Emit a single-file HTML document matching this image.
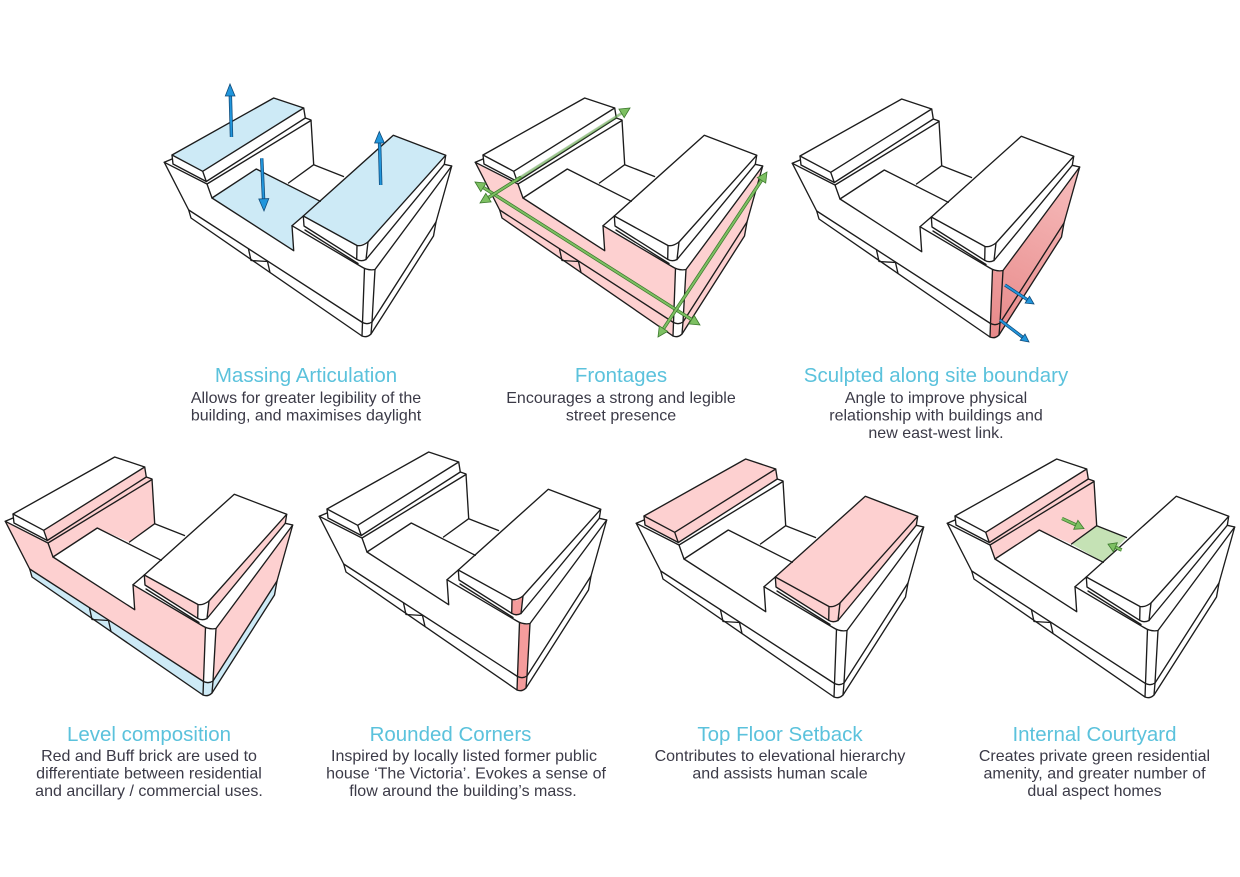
<!DOCTYPE html>
<html><head><meta charset="utf-8">
<style>
html,body{margin:0;padding:0;background:#fff;}
svg{display:block;}
.t{font-family:"Liberation Sans",Arial,sans-serif;font-size:20.5px;fill:#5bc2dc;text-anchor:middle;}
.d{font-family:"Liberation Sans",Arial,sans-serif;font-size:16px;fill:#3b3a47;text-anchor:middle;}
</style></head><body>
<svg width="1240" height="877" viewBox="0 0 1240 877" xmlns="http://www.w3.org/2000/svg">
<defs>
<linearGradient id="gr" x1="1075" y1="170" x2="995" y2="335" gradientUnits="userSpaceOnUse">
<stop offset="0" stop-color="#f6bcbc"/><stop offset="1" stop-color="#e88a8a"/>
</linearGradient>
<g id="b" fill="none" stroke="#1c1c1c" stroke-width="1.35" stroke-linejoin="round" stroke-linecap="round">
<path d="M800,156 L901.7,99 L931.7,109 L830.7,172.3 Z"/>
<path d="M830.7,172.3 L834.3,182.5 L933.3,119 L931.7,109"/>
<path d="M800,156 L801,165 L834.3,182.5"/>
<path d="M792.3,163.3 L800,160"/>
<path d="M933.3,119 L939,121 L941.7,165.7"/>
<path d="M835,185 L939,121.5"/>
<path d="M792.3,163.3 L835,185 L840,199 L921.7,251.7 L920,226.7 L989,267.5 Q996,272 1003,270.5 L1079.7,167 L1072.3,165.3"/>
<path d="M792.3,163.3 L816.7,211 L819,219 L990,337 Q995,339 999,335 L1061.5,237 L1064,223 L1079.7,167"/>
<path d="M816.7,211 L990.5,323.5 Q995.5,326 1000,323 L1064,223"/>
<path d="M992.5,269.5 L990.5,323.5 L990,337"/>
<path d="M1003,270.5 L1000,323 L999,335"/>
<path d="M840,199 L884.3,170 L948.3,202.3"/>
<path d="M916.5,184 L941.7,165.7 L971.5,177.5"/>
<path d="M931.3,217 L1021.3,136.3 L1073.7,156.3 L996,243 Q990,247.5 985,246.5 Z"/>
<path d="M931.3,217 L932,227 L984.7,260.3 Q989,263 994,260.5 L1072.3,165.3 L1073.7,156.3"/>
<path d="M985,246.5 L984.7,260.3"/>
<path d="M996,243 L994,260.5"/>
<path d="M920,226.7 L931.3,217"/>
<path d="M933,231 L986,264.5"/>
<path d="M876.5,250 L879,261.5 L895.5,262.5 L898,273.5"/>
</g>
</defs>

<!-- Diagram 1: Massing Articulation -->
<g transform="translate(-628,-1)">
<g fill="#cdeaf6">
<polygon points="800,156 901.7,99 931.7,109 830.7,172.3"/>
<polygon points="931.3,217 1021.3,136.3 1073.7,156.3 996,243 985,246.5"/>
<polygon points="840,199 884.3,170 948.3,202.3 931.3,217 920,226.7 921.7,251.7"/>
</g>
<use href="#b"/>
</g>
<g>
<line x1="231.5" y1="137" x2="230.3" y2="94" stroke="#104a78" stroke-width="3.4"/>
<line x1="231.5" y1="137" x2="230.3" y2="94" stroke="#2196dc" stroke-width="1.9"/>
<polygon points="225.3,96 230,84 235,96" fill="#2196dc" stroke="#104a78" stroke-width="0.8"/>
<line x1="261.7" y1="158.3" x2="263.6" y2="200" stroke="#104a78" stroke-width="3.4"/>
<line x1="261.7" y1="158.3" x2="263.6" y2="200" stroke="#2196dc" stroke-width="1.9"/>
<polygon points="258.8,199 264,211 268.8,198.6" fill="#2196dc" stroke="#104a78" stroke-width="0.8"/>
<line x1="380.7" y1="185" x2="379.5" y2="141" stroke="#104a78" stroke-width="3.4"/>
<line x1="380.7" y1="185" x2="379.5" y2="141" stroke="#2196dc" stroke-width="1.9"/>
<polygon points="374.6,143 379.3,131.5 384.4,143" fill="#2196dc" stroke="#104a78" stroke-width="0.8"/>
</g>

<!-- Diagram 2: Frontages -->
<g transform="translate(-317,-1)">
<g fill="#fdd0d0">
<polygon points="792.3,163.3 835,185 840,199 921.7,251.7 920,226.7 989,267.5 992.5,269.5 990.5,323.5 990,337 819,219 816.7,211"/>
<polygon points="1003,270.5 1079.7,167 1064,223 1061.5,237 999,335 1000,323"/>
</g>
<use href="#b"/>
</g>
<g stroke-linecap="round">
<line x1="483" y1="187.3" x2="692" y2="319.8" stroke="#3d7a2e" stroke-width="3.4"/>
<line x1="483" y1="187.3" x2="692" y2="319.8" stroke="#7dc062" stroke-width="1.9"/>
<polygon points="700,325 688.9,323.9 694.2,315.4" fill="#7dc062" stroke="#3d7a2e" stroke-width="0.8"/>
<polygon points="475,182 480.8,191.6 486.1,183.1" fill="#7dc062" stroke="#3d7a2e" stroke-width="0.8"/>
<line x1="488.5" y1="197.6" x2="520" y2="177.7" stroke="#3d7a2e" stroke-width="3.4"/>
<line x1="488.5" y1="197.6" x2="520" y2="177.7" stroke="#7dc062" stroke-width="1.9"/>
<line x1="520" y1="177.7" x2="621.5" y2="113.4" stroke="#3d7a2e" stroke-width="3" opacity="0.35"/>
<line x1="520" y1="177.7" x2="621.5" y2="113.4" stroke="#7dc062" stroke-width="1.8" opacity="0.5"/>
<polygon points="630,108 624.2,117.6 618.9,109.1" fill="#7dc062" stroke="#3d7a2e" stroke-width="0.8"/>
<polygon points="480,203 491.1,201.9 485.8,193.4" fill="#7dc062" stroke="#3d7a2e" stroke-width="0.8"/>
<line x1="663.5" y1="328.7" x2="761.5" y2="180.3" stroke="#3d7a2e" stroke-width="3.4"/>
<line x1="663.5" y1="328.7" x2="761.5" y2="180.3" stroke="#7dc062" stroke-width="1.9"/>
<polygon points="767,172 765.7,183.1 757.3,177.6" fill="#7dc062" stroke="#3d7a2e" stroke-width="0.8"/>
<polygon points="658,337 667.7,331.4 659.3,325.9" fill="#7dc062" stroke="#3d7a2e" stroke-width="0.8"/>
</g>

<!-- Diagram 3: Sculpted along site boundary -->
<g>
<polygon fill="url(#gr)" points="992.5,269.5 996,271.5 1003,270.5 1079.7,167 1064,223 1061.5,237 999,335 995,338.5 990,337 990.5,323.5"/>
<use href="#b"/>
<line x1="1005" y1="285" x2="1027.3" y2="299.7" stroke="#104a78" stroke-width="3.2"/>
<line x1="1005" y1="285" x2="1027.3" y2="299.7" stroke="#2196dc" stroke-width="1.8"/>
<polygon points="1034,304 1025.1,303.1 1029.5,296.3" fill="#2196dc" stroke="#104a78" stroke-width="0.8"/>
<line x1="1000" y1="320" x2="1022.6" y2="337.2" stroke="#104a78" stroke-width="3.2"/>
<line x1="1000" y1="320" x2="1022.6" y2="337.2" stroke="#2196dc" stroke-width="1.8"/>
<polygon points="1029,342 1020.2,340.4 1025,334" fill="#2196dc" stroke="#104a78" stroke-width="0.8"/>
</g>

<!-- Diagram 4: Level composition -->
<g transform="translate(-787,358)">
<g fill="#fdd0d0">
<polygon points="792.3,163.3 835,185 840,199 921.7,251.7 920,226.7 989,267.5 992.5,269.5 990.5,323.5 816.7,211"/>
<polygon points="830.7,172.3 931.7,109 933.3,119 939,121 941.7,165.7 916.5,184 884.3,170 840,199 835,185 834.3,182.5"/>
<polygon points="931.3,217 985,246.5 984.7,260.3 932,227"/>
<polygon points="996,243 1073.7,156.3 1072.3,165.3 994,260.5"/>
<polygon points="1003,270.5 1079.7,167 1064,223 1000,323"/>
</g>
<polygon fill="#cdeaf6" points="816.7,211 990.5,323.5 1000,323 1064,223 1061.5,237 999,335 995,338.5 990,337 819,219"/>
<use href="#b"/>
</g>

<!-- Diagram 5: Rounded Corners -->
<g transform="translate(-473,353)">
<g fill="#f59c9c">
<polygon points="985,246.5 990,247.5 996,243 994,260.5 989,263 984.7,260.3"/>
<polygon points="992.5,269.5 996,271.5 1003,270.5 1000,323 999,335 995,338.5 990,337 990.5,323.5"/>
</g>
<use href="#b"/>
</g>

<!-- Diagram 6: Top Floor Setback -->
<g transform="translate(-156,360)">
<g fill="#fdd0d0">
<polygon points="800,156 901.7,99 931.7,109 933.3,119 834.3,182.5 801,165"/>
<polygon points="931.3,217 1021.3,136.3 1073.7,156.3 1072.3,165.3 994,260.5 989,263 984.7,260.3 932,227"/>
</g>
<use href="#b"/>
</g>

<!-- Diagram 7: Internal Courtyard -->
<g transform="translate(155,360)">
<polygon fill="#fdd0d0" points="830.7,172.3 931.7,109 933.3,119 939,121 941.7,165.7 916.5,184 884.3,170 840,199 835,185 834.3,182.5"/>
<polygon fill="#c5e2b5" points="916.5,184 941.7,165.7 971.5,177.5 948.3,202.3"/>
<use href="#b"/>
</g>
<g>
<line x1="1062" y1="518.5" x2="1075.8" y2="524.8" stroke="#3d7a2e" stroke-width="3.4"/>
<line x1="1062" y1="518.5" x2="1075.8" y2="524.8" stroke="#7dc062" stroke-width="1.9"/>
<polygon points="1084,528.6 1073.7,529.3 1077.9,520.3" fill="#7dc062" stroke="#3d7a2e" stroke-width="0.8"/>
<line x1="1121.7" y1="550" x2="1115.4" y2="547.3" stroke="#3d7a2e" stroke-width="3.4"/>
<line x1="1121.7" y1="550" x2="1115.4" y2="547.3" stroke="#7dc062" stroke-width="1.9"/>
<polygon points="1108,544.2 1117.3,542.7 1113.4,551.9" fill="#7dc062" stroke="#3d7a2e" stroke-width="0.8"/>
</g>

<!-- Captions row 1 -->
<text class="t" x="306" y="382">Massing Articulation</text>
<text class="d" x="306" y="403">Allows for greater legibility of the</text>
<text class="d" x="306" y="420.5">building, and maximises daylight</text>
<text class="t" x="621" y="382">Frontages</text>
<text class="d" x="621" y="403">Encourages a strong and legible</text>
<text class="d" x="621" y="420.5">street presence</text>
<text class="t" x="936" y="382">Sculpted along site boundary</text>
<text class="d" x="936" y="403">Angle to improve physical</text>
<text class="d" x="936" y="420.5">relationship with buildings and</text>
<text class="d" x="936" y="438">new east-west link.</text>

<!-- Captions row 2 -->
<text class="t" x="149" y="741">Level composition</text>
<text class="d" x="149" y="761">Red and Buff brick are used to</text>
<text class="d" x="149" y="778.5">differentiate between residential</text>
<text class="d" x="149" y="796">and ancillary / commercial uses.</text>
<text class="t" x="450.5" y="741">Rounded Corners</text>
<text class="d" x="464" y="761">Inspired by locally listed former public</text>
<text class="d" x="466" y="778.5">house ‘The Victoria’. Evokes a sense of</text>
<text class="d" x="463" y="796">flow around the building’s mass.</text>
<text class="t" x="780" y="741">Top Floor Setback</text>
<text class="d" x="780" y="761">Contributes to elevational hierarchy</text>
<text class="d" x="780" y="778.5">and assists human scale</text>
<text class="t" x="1094.5" y="741">Internal Courtyard</text>
<text class="d" x="1094.5" y="761">Creates private green residential</text>
<text class="d" x="1094.5" y="778.5">amenity, and greater number of</text>
<text class="d" x="1094.5" y="796">dual aspect homes</text>
</svg>
</body></html>
